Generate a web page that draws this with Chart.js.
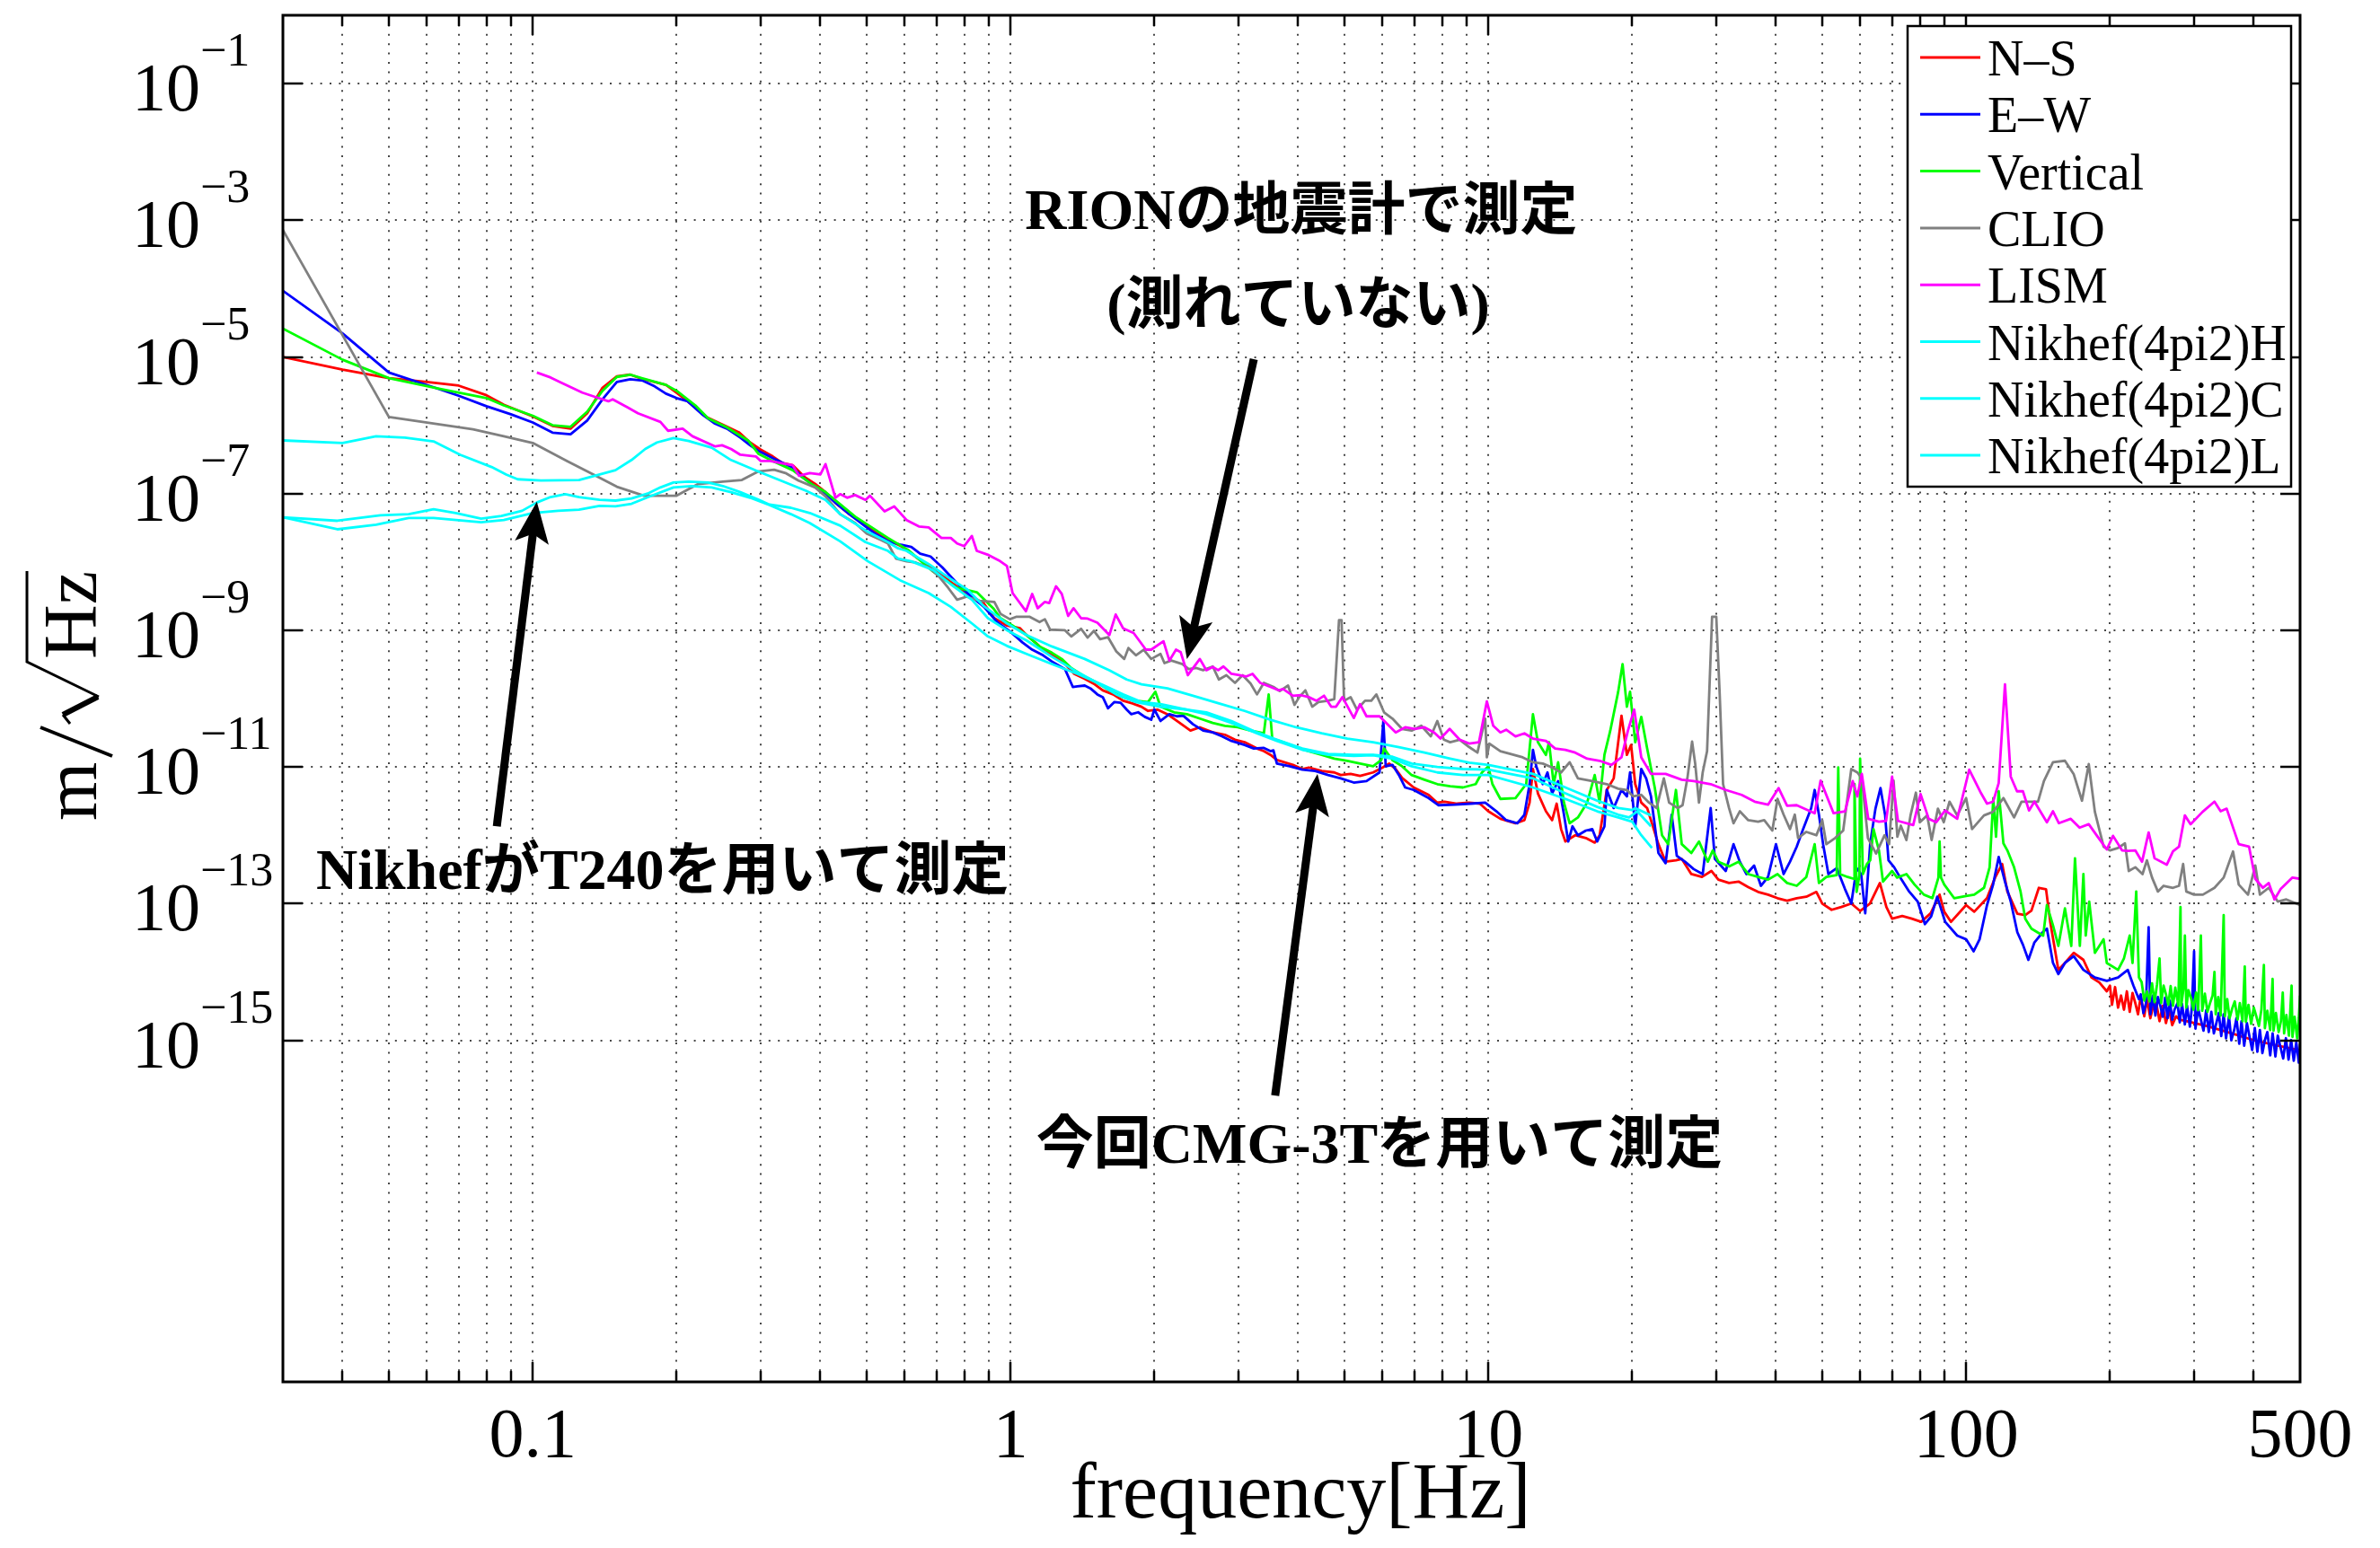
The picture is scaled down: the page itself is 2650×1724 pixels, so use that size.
<!DOCTYPE html>
<html><head><meta charset="utf-8">
<script src="https://cdn.jsdelivr.net/npm/chart.js"></script>
<style>html,body{margin:0;padding:0;background:#fff;overflow:hidden}canvas{display:block}</style>
</head><body>
<canvas id="c" width="2650" height="1724"></canvas>
<script>
// ---------- tick / label data ----------
const X_TICK_VALUES = [0.1, 1, 10, 100, 500];
const X_TICK_LABELS = ['0.1', '1', '10', '100', '500'];
const X_MAJOR = [0.1, 1, 10, 100];
const X_MINOR = [0.04,0.05,0.06,0.07,0.08,0.09,0.2,0.3,0.4,0.5,0.6,0.7,0.8,0.9,2,3,4,5,6,7,8,9,20,30,40,50,60,70,80,90,200,300,400];
const Y_TICK_VALUES = [1e-1,1e-3,1e-5,1e-7,1e-9,1e-11,1e-13,1e-15];
const Y_TICK_EXPONENTS = ['\u22121','\u22123','\u22125','\u22127','\u22129','\u221211','\u221213','\u221215'];
const SERIES_NAMES = ['N\u2013S','E\u2013W','Vertical','CLIO','LISM','Nikhef(4pi2)H','Nikhef(4pi2)C','Nikhef(4pi2)L'];
const SERIES_COLORS = ['#ff0000','#0000ff','#00ff00','#808080','#ff00ff','#00ffff','#00ffff','#00ffff'];

// ---------- series: [frequency Hz, m/sqrt(Hz)] ----------
const NS = [[0.03,1.0e-5],[0.04,6.5e-6],[0.05,4.9e-6],[0.06,4.3e-6],[0.07,3.8e-6],[0.08,2.75e-6],[0.087,2.0e-6],[0.1,1.35e-6],[0.11,9.8e-7],[0.12,8.9e-7],[0.13,1.5e-6],[0.14,3.55e-6],[0.15,5.2e-6],[0.16,5.5e-6],[0.169,4.8e-6],[0.19,3.9e-6],[0.2,3.0e-6],[0.211,2.24e-6],[0.231,1.32e-6],[0.25,1.02e-6],[0.27,7.9e-7],[0.285,5.6e-7],[0.3,4.4e-7],[0.318,3.5e-7],[0.333,2.8e-7],[0.35,2.6e-7],[0.371,1.74e-7],[0.392,1.35e-7],[0.41,1.05e-7],[0.432,7.1e-8],[0.46,5.0e-8],[0.5,3.4e-8],[0.554,2.1e-8],[0.59,1.7e-8],[0.647,1.07e-8],[0.689,7.9e-9],[0.73,5.9e-9],[0.8,3.6e-9],[0.88,2.45e-9],[0.925,1.5e-9],[0.983,1.17e-9],[1.047,1.07e-9],[1.08,8.5e-10],[1.13,6.5e-10],[1.18,4.9e-10],[1.24,4.1e-10],[1.3,3.2e-10],[1.36,2.3e-10],[1.43,1.95e-10],[1.5,1.62e-10],[1.56,1.32e-10],[1.64,1.15e-10],[1.72,9.3e-11],[1.8,8.5e-11],[1.88,7.6e-11],[1.94,6.6e-11],[2.03,6.9e-11],[2.13,5.9e-11],[2.23,4.7e-11],[2.38,3.4e-11],[2.49,3.8e-11],[2.65,3.2e-11],[2.81,2.95e-11],[2.95,2.5e-11],[3.09,2.3e-11],[3.28,1.86e-11],[3.39,1.7e-11],[3.5,1.5e-11],[3.61,1.26e-11],[3.9,1.07e-11],[4.08,9.3e-12],[4.21,9.8e-12],[4.48,8.7e-12],[4.76,8.3e-12],[4.91,7.6e-12],[5.15,7.9e-12],[5.39,7.4e-12],[5.74,8.3e-12],[6.01,9.8e-12],[6.2,1.12e-11],[6.4,9.3e-12],[6.6,6.9e-12],[6.98,5.0e-12],[7.5,3.9e-12],[7.81,3.0e-12],[8.1,3.1e-12],[8.6,2.9e-12],[9.1,3.0e-12],[9.6,2.9e-12],[10.0,2.24e-12],[10.6,1.74e-12],[11.4,1.5e-12],[11.9,1.66e-12],[12.2,3.0e-12],[12.4,9.3e-12],[12.7,4.1e-12],[13.2,2.24e-12],[13.6,1.66e-12],[13.9,2.9e-12],[14.2,1.23e-12],[14.5,8.1e-13],[15.2,1.0e-12],[16.0,9.1e-13],[16.7,7.8e-13],[17.1,1.0e-12],[17.7,4.6e-12],[18.3,6.8e-12],[19.0,5.6e-11],[19.5,1.5e-11],[19.9,2.1e-11],[20.3,5.6e-12],[20.9,3.0e-12],[21.5,2.5e-12],[22.7,7.4e-13],[23.5,4.1e-13],[24.7,4.3e-13],[25.4,4.5e-13],[26.6,2.7e-13],[28.0,2.45e-13],[29.3,3.0e-13],[30.3,2.24e-13],[31.9,2.0e-13],[33.4,2.1e-13],[35.0,1.74e-13],[36.7,1.48e-13],[38.5,1.35e-13],[40.3,1.2e-13],[42.2,1.1e-13],[44.2,1.2e-13],[46.3,1.26e-13],[48.6,1.48e-13],[50,1.0e-13],[52.3,8.1e-14],[54.8,8.9e-14],[57.5,1.0e-13],[60,7.8e-14],[62.9,1.0e-13],[66,2.0e-13],[68.1,8.9e-14],[70,6.0e-14],[73.5,6.6e-14],[77,6.0e-14],[80.5,5.4e-14],[84.3,7.2e-14],[88,1.35e-13],[90,7.6e-14],[93,5.4e-14],[100,9.5e-14],[104,7.6e-14],[110.6,1.2e-13],[115,2.4e-13],[119,3.8e-13],[122,1.5e-13],[128,7.1e-14],[133,6.8e-14],[137,7.9e-14],[142,1.7e-13],[147,1.62e-13],[150,5.4e-14],[156,1.07e-14],[161,1.35e-14],[168,1.9e-14],[176,1.5e-14],[183,8.3e-15],[190,7.0e-15],[197,5.2e-15],[200,6.3e-15],[202,3.3e-15],[205,6.0e-15],[208,3.0e-15],[211,4.5e-15],[214,2.8e-15],[217,5.2e-15],[220,2.6e-15],[223,4.9e-15],[226,3.5e-15],[229,2.4e-15],[232,4.4e-15],[236,2.24e-15],[239,4.0e-15],[243,2.1e-15],[246,3.0e-15],[250,3.5e-15],[254,1.9e-15],[258,3.2e-15],[262,1.78e-15],[266,2.8e-15],[270,1.66e-15],[275,2.24e-15],[280,2.0e-15],[290,1.9e-15],[320,1.6e-15],[360,1.26e-15],[400,1.0e-15],[450,8.3e-16],[500,7.1e-16]];

const EW = [[0.03,9.3e-5],[0.04,2.2e-5],[0.05,5.9e-6],[0.062,3.6e-6],[0.07,2.7e-6],[0.08,1.9e-6],[0.09,1.45e-6],[0.1,1.1e-6],[0.11,7.8e-7],[0.12,7.4e-7],[0.13,1.17e-6],[0.14,2.4e-6],[0.15,4.3e-6],[0.16,4.7e-6],[0.17,4.5e-6],[0.18,3.7e-6],[0.19,2.9e-6],[0.2,2.5e-6],[0.211,2.24e-6],[0.226,1.45e-6],[0.24,1.07e-6],[0.255,8.9e-7],[0.272,6.6e-7],[0.285,5.1e-7],[0.297,4.2e-7],[0.318,3.3e-7],[0.35,2.4e-7],[0.37,1.66e-7],[0.39,1.26e-7],[0.41,1.0e-7],[0.432,7.1e-8],[0.46,5.0e-8],[0.5,3.2e-8],[0.525,2.5e-8],[0.555,2.0e-8],[0.59,1.78e-8],[0.62,1.66e-8],[0.647,1.32e-8],[0.68,1.2e-8],[0.72,8.3e-9],[0.77,5.0e-9],[0.82,3.3e-9],[0.88,2.2e-9],[0.94,1.29e-9],[1.0,9.5e-10],[1.06,6.6e-10],[1.11,5.2e-10],[1.17,4.3e-10],[1.22,3.5e-10],[1.3,2.7e-10],[1.35,1.48e-10],[1.38,1.51e-10],[1.43,1.55e-10],[1.47,1.41e-10],[1.52,1.15e-10],[1.56,1.05e-10],[1.6,7.2e-11],[1.65,8.9e-11],[1.7,8.7e-11],[1.75,6.9e-11],[1.79,5.9e-11],[1.85,6.3e-11],[1.91,5.4e-11],[1.97,4.9e-11],[2.0,6.9e-11],[2.06,4.7e-11],[2.15,5.9e-11],[2.23,5.5e-11],[2.3,5.6e-11],[2.41,4.2e-11],[2.53,3.4e-11],[2.65,3.2e-11],[2.77,2.8e-11],[2.9,2.4e-11],[3.09,2.1e-11],[3.23,1.86e-11],[3.39,1.9e-11],[3.5,1.7e-11],[3.55,1.75e-11],[3.61,1.12e-11],[3.84,1.02e-11],[4.08,9.1e-12],[4.34,8.7e-12],[4.62,7.6e-12],[4.91,6.8e-12],[5.23,5.9e-12],[5.56,6.2e-12],[5.92,8.3e-12],[6.03,4.7e-11],[6.1,1.02e-11],[6.3,1.07e-11],[6.5,7.6e-12],[6.7,5.0e-12],[6.98,4.6e-12],[7.5,3.5e-12],[7.87,2.75e-12],[8.5,2.8e-12],[9.2,2.9e-12],[9.85,3.0e-12],[10.4,2.24e-12],[10.9,1.66e-12],[11.5,1.5e-12],[11.9,2.0e-12],[12.2,5.6e-12],[12.4,1.78e-11],[12.6,1.02e-11],[13.0,5.6e-12],[13.3,8.3e-12],[13.6,4.1e-12],[14.0,6.2e-12],[14.4,2.0e-12],[14.7,8.1e-13],[15.0,1.35e-12],[15.4,1.0e-12],[16.0,1.17e-12],[16.5,1.23e-12],[16.9,8.1e-13],[17.5,1.35e-12],[17.7,4.6e-12],[18.3,2.5e-12],[19.0,4.6e-12],[19.5,3.7e-12],[19.8,8.3e-12],[20.3,1.35e-12],[20.9,9.3e-12],[21.4,6.8e-12],[21.9,3.7e-12],[22.7,5.5e-13],[23.5,3.9e-13],[24.2,2.0e-12],[24.8,5.0e-13],[25.8,4.1e-13],[26.9,3.2e-13],[28.1,2.7e-13],[29.2,2.5e-12],[29.8,4.5e-13],[31.4,3.0e-13],[32.6,7.4e-13],[33.6,4.1e-13],[34.7,2.7e-13],[36.0,3.6e-13],[37.2,1.82e-13],[38.5,2.45e-13],[40.0,7.4e-13],[41.5,2.7e-13],[42.8,4.1e-13],[44.2,6.8e-13],[45.6,1.23e-12],[47.4,2.5e-12],[48.2,4.6e-12],[49.2,2.0e-12],[50.2,7.4e-13],[51.5,2.7e-13],[53.6,3.3e-13],[55.8,1.62e-13],[57.5,1.0e-13],[59,3.3e-13],[60.3,2.7e-13],[61.5,7.2e-14],[63.0,7.6e-13],[64.6,2.45e-12],[66.2,4.9e-12],[67.7,1.95e-12],[68.8,4.3e-13],[70.7,3.4e-13],[72.8,2.4e-13],[76,1.5e-13],[79.2,1.07e-13],[82,5.0e-14],[84.5,6.5e-14],[87,1.26e-13],[90.4,5.4e-14],[95.8,3.4e-14],[100,3.0e-14],[103.7,2.0e-14],[106.7,3.0e-14],[110.6,9.5e-14],[113.9,1.9e-13],[117,4.8e-13],[120.6,2.1e-13],[124,1.07e-13],[128,3.8e-14],[131.5,2.5e-14],[135,1.5e-14],[139,2.7e-14],[144.6,3.8e-14],[147.6,4.3e-14],[152,1.35e-14],[156,9.3e-15],[161,1.35e-14],[168,1.7e-14],[176,1.07e-14],[186,8.3e-15],[197,7.4e-15],[208,8.3e-15],[218,1.07e-14],[224,6.3e-15],[230,4.0e-15],[232,4.7e-15],[235,2.5e-15],[238,3.5e-15],[241,4.5e-14],[243,2.4e-15],[246,4.5e-15],[249,2.3e-15],[252,4.3e-15],[255,3.2e-15],[258,2.2e-15],[261,4.2e-15],[264,2.1e-15],[267,3.8e-15],[270,2.0e-15],[273,2.8e-15],[277,3.5e-15],[280,1.82e-15],[283,3.4e-15],[287,1.7e-15],[290,3.2e-15],[294,1.58e-15],[297,3.1e-15],[300,2.0e-14],[302,1.48e-15],[306,2.9e-15],[310,2.0e-15],[314,1.38e-15],[318,2.75e-15],[322,1.32e-15],[326,2.6e-15],[330,1.26e-15],[334,1.78e-15],[338,2.5e-15],[342,1.15e-15],[346,2.4e-15],[350,1.07e-15],[355,2.24e-15],[359,1.0e-15],[364,1.41e-15],[368,2.1e-15],[373,8.9e-16],[377,1.9e-15],[382,8.3e-16],[387,1.78e-15],[392,1.12e-15],[397,7.2e-16],[402,1.51e-15],[407,6.8e-16],[412,1.41e-15],[417,6.5e-16],[422,1.0e-15],[427,1.32e-15],[433,6.0e-16],[438,1.26e-15],[444,5.8e-16],[449,1.17e-15],[455,7.9e-16],[461,5.4e-16],[467,1.07e-15],[473,5.2e-16],[479,1.0e-15],[485,5.0e-16],[491,9.3e-16],[497,4.7e-16],[500,8.9e-16]];

const VERT = [[0.03,2.6e-5],[0.04,9.1e-6],[0.05,4.9e-6],[0.064,3.4e-6],[0.08,2.5e-6],[0.087,1.95e-6],[0.1,1.38e-6],[0.11,1.0e-6],[0.12,9.5e-7],[0.13,1.58e-6],[0.14,3.2e-6],[0.15,5.1e-6],[0.16,5.5e-6],[0.169,4.9e-6],[0.19,3.9e-6],[0.2,3.2e-6],[0.219,1.95e-6],[0.233,1.26e-6],[0.255,9.3e-7],[0.283,5.9e-7],[0.297,3.8e-7],[0.318,3.0e-7],[0.35,2.2e-7],[0.385,1.35e-7],[0.41,1.05e-7],[0.473,4.6e-8],[0.554,2.24e-8],[0.61,1.5e-8],[0.689,7.2e-9],[0.77,4.2e-9],[0.85,3.6e-9],[0.92,2.1e-9],[0.953,1.5e-9],[1.01,1.17e-9],[1.08,8.5e-10],[1.15,5.8e-10],[1.22,4.7e-10],[1.28,3.8e-10],[1.34,2.8e-10],[1.43,2.1e-10],[1.52,1.7e-10],[1.61,1.32e-10],[1.72,1.05e-10],[1.83,9.3e-11],[1.94,8.9e-11],[2.01,1.26e-10],[2.06,7.6e-11],[2.2,6.3e-11],[2.34,5.9e-11],[2.49,5.1e-11],[2.65,4.4e-11],[2.81,4.0e-11],[2.99,3.8e-11],[3.18,3.4e-11],[3.39,3.1e-11],[3.47,1.15e-10],[3.53,2.6e-11],[3.72,2.3e-11],[3.96,1.95e-11],[4.21,1.7e-11],[4.48,1.5e-11],[4.76,1.32e-11],[5.07,1.23e-11],[5.39,1.12e-11],[5.74,1.02e-11],[5.97,1.26e-11],[6.05,1.86e-11],[6.3,1.26e-11],[6.6,1.02e-11],[6.91,7.6e-12],[7.35,6.5e-12],[7.82,5.6e-12],[8.32,5.2e-12],[8.85,5.0e-12],[9.41,5.6e-12],[9.7,8.3e-12],[10.0,1.02e-11],[10.2,5.6e-12],[10.6,3.4e-12],[11.4,3.5e-12],[12.0,5.6e-12],[12.4,5.9e-11],[12.7,2.3e-11],[13.2,1.5e-11],[13.4,2.3e-11],[13.7,5.6e-12],[14.0,1.17e-11],[14.4,3.0e-12],[14.8,1.5e-12],[15.4,1.82e-12],[16.1,3.0e-12],[16.7,7.6e-12],[17.1,3.0e-12],[17.5,1.5e-11],[18.0,3.4e-11],[18.7,1.26e-10],[19.1,3.2e-10],[19.5,7.6e-11],[19.8,1.26e-10],[20.3,2.3e-11],[20.9,5.4e-11],[21.5,1.86e-11],[22.3,5.0e-12],[23.1,1.0e-12],[23.8,7.4e-13],[24.7,4.6e-12],[25.4,7.4e-13],[26.6,5.5e-13],[27.6,8.1e-13],[28.8,4.1e-13],[29.5,6.0e-13],[30.3,4.1e-13],[31.9,3.5e-13],[33.4,4.1e-13],[35,2.7e-13],[36.7,2.45e-13],[38.5,2.24e-13],[40.3,2.7e-13],[42.2,2.0e-13],[44.2,1.82e-13],[46.3,2.45e-13],[48.2,7.4e-13],[49.2,2.0e-13],[51,2.45e-13],[53.6,2.6e-13],[54,9.8e-12],[54.5,2.7e-13],[56.5,2.45e-13],[58.2,2.3e-13],[58.4,5.6e-12],[59,1.48e-13],[59.8,2.6e-13],[60,1.32e-11],[60.8,2.7e-13],[62,3.8e-13],[63,4.3e-13],[64,1.23e-12],[65.7,6.0e-13],[67,2.1e-13],[70,3.0e-13],[71.7,2.4e-13],[75,2.7e-13],[78,1.9e-13],[81.6,1.35e-13],[85,1.2e-13],[87.5,2.4e-13],[88,8.1e-13],[88.6,2.4e-13],[90,1.9e-13],[94.4,1.2e-13],[100,1.29e-13],[104,1.35e-13],[109,1.7e-13],[112,3.4e-13],[114,3.5e-12],[115.5,9.5e-13],[117,4.4e-12],[119.7,7.6e-13],[122,6.0e-13],[126,3.4e-13],[130,1.5e-13],[133,6.0e-14],[137,4.3e-14],[141,3.8e-14],[145,3.4e-14],[147.6,9.5e-14],[152,4.8e-14],[156,2.4e-14],[161,8.5e-14],[166,2.4e-14],[169,4.6e-13],[173,2.4e-14],[176,2.7e-13],[178,3.4e-14],[181,1.07e-13],[186,1.9e-14],[194,3.0e-14],[197,1.35e-14],[208,1.07e-14],[214,1.58e-14],[220,3.4e-14],[223,1.35e-14],[227,1.5e-13],[230,8.3e-15],[233,7.1e-15],[236,3.8e-15],[239,5.2e-15],[242,3.7e-15],[245,6.8e-15],[248,3.6e-15],[251,6.6e-15],[254,1.58e-14],[256,3.5e-15],[259,6.3e-15],[262,4.7e-15],[265,3.3e-15],[268,6.2e-15],[271,3.2e-15],[274,5.9e-15],[278,3.2e-15],[281,8.9e-14],[282,3.2e-15],[285,5.6e-15],[287,3.4e-14],[289,3.0e-15],[292,5.4e-15],[296,4.0e-15],[299,2.8e-15],[303,5.0e-15],[306,2.75e-15],[310,3.4e-14],[312,2.7e-15],[316,4.8e-15],[320,2.6e-15],[324,3.5e-15],[328,4.5e-15],[331,1.0e-14],[333,2.4e-15],[337,4.3e-15],[341,2.3e-15],[346,6.8e-14],[348,2.24e-15],[352,4.0e-15],[356,2.1e-15],[361,3.0e-15],[365,3.7e-15],[370,2.0e-15],[374,3.5e-15],[379,1.9e-15],[383,1.2e-14],[385,1.86e-15],[390,3.3e-15],[395,1.74e-15],[400,3.0e-15],[405,2.24e-15],[410,1.62e-15],[415,2.8e-15],[420,1.26e-14],[422,1.5e-15],[427,2.7e-15],[433,1.41e-15],[438,7.9e-15],[440,1.38e-15],[445,2.5e-15],[451,1.32e-15],[456,1.9e-15],[460,5.0e-15],[463,1.26e-15],[468,2.34e-15],[474,1.17e-15],[480,6.3e-15],[482,1.12e-15],[487,2.2e-15],[493,1.07e-15],[497,2.1e-15],[500,4.5e-15]];

const CLIO = [[0.03,7.2e-4],[0.05,1.32e-6],[0.075,8.7e-7],[0.087,6.9e-7],[0.1,5.5e-7],[0.118,3.0e-7],[0.134,1.9e-7],[0.15,1.26e-7],[0.171,9.3e-8],[0.2,9.3e-8],[0.222,1.38e-7],[0.25,1.5e-7],[0.274,1.58e-7],[0.296,2.1e-7],[0.32,2.24e-7],[0.338,2.0e-7],[0.36,1.55e-7],[0.39,1.23e-7],[0.41,9.1e-8],[0.44,5.0e-8],[0.473,3.7e-8],[0.5,2.6e-8],[0.535,2.1e-8],[0.554,1.86e-8],[0.576,1.12e-8],[0.606,1.02e-8],[0.633,9.8e-9],[0.674,8.3e-9],[0.706,6.3e-9],[0.74,4.2e-9],[0.773,2.8e-9],[0.81,3.1e-9],[0.86,2.7e-9],[0.925,2.6e-9],[0.953,1.74e-9],[0.997,1.45e-9],[1.03,1.58e-9],[1.095,1.58e-9],[1.15,1.32e-9],[1.18,1.45e-9],[1.21,1.02e-9],[1.3,1.0e-9],[1.34,8.1e-10],[1.405,1.05e-9],[1.45,7.8e-10],[1.495,9.8e-10],[1.54,7.4e-10],[1.6,7.9e-10],[1.665,4.9e-10],[1.73,3.8e-10],[1.765,5.5e-10],[1.83,4.3e-10],[1.9,5.2e-10],[1.97,3.8e-10],[2.06,4.5e-10],[2.1,3.3e-10],[2.17,3.6e-10],[2.29,3.2e-10],[2.36,2.7e-10],[2.45,2.8e-10],[2.53,2.6e-10],[2.65,2.95e-10],[2.73,1.9e-10],[2.83,2.2e-10],[2.95,1.7e-10],[3.06,2.2e-10],[3.18,1.66e-10],[3.28,1.15e-10],[3.39,1.7e-10],[3.55,1.48e-10],[3.66,1.29e-10],[3.81,1.55e-10],[3.93,8.1e-11],[4.02,1.05e-10],[4.14,1.32e-10],[4.28,7.6e-11],[4.41,8.9e-11],[4.62,9.3e-11],[4.76,9.8e-11],[4.87,1.41e-9],[4.93,1.41e-9],[4.99,9.3e-11],[5.15,1.05e-10],[5.31,6.9e-11],[5.52,9.3e-11],[5.69,9.3e-11],[5.83,1.15e-10],[6.05,6.3e-11],[6.3,5.1e-11],[6.6,3.6e-11],[6.91,3.4e-11],[7.24,4.0e-11],[7.58,2.8e-11],[7.82,4.7e-11],[8.07,2.5e-11],[8.32,2.3e-11],[8.71,2.5e-11],[9.12,1.95e-11],[9.49,1.62e-11],[9.85,5.1e-11],[9.93,1.38e-11],[10.05,2.2e-11],[10.6,1.7e-11],[11.3,1.5e-11],[11.8,1.38e-11],[12.4,1.17e-11],[13.0,1.12e-11],[13.6,9.8e-12],[14.2,8.3e-12],[14.8,1.17e-11],[15.4,6.8e-12],[16.5,6.2e-12],[17.7,5.6e-12],[18.7,4.8e-12],[19.5,4.6e-12],[20.1,3.7e-12],[20.9,3.9e-12],[21.7,3.0e-12],[22.5,2.5e-12],[23.3,6.8e-12],[23.9,3.0e-12],[24.9,2.5e-12],[25.5,2.75e-12],[26.1,6.8e-12],[26.7,2.34e-11],[27.1,1.12e-11],[27.6,3.0e-12],[28.1,8.3e-12],[28.7,1.7e-11],[29.4,1.58e-9],[30.0,1.58e-9],[30.5,1.15e-10],[31.0,5.6e-12],[31.9,2.5e-12],[32.6,1.5e-12],[33.6,2.24e-12],[35.0,1.66e-12],[36.7,1.58e-12],[37.8,1.66e-12],[39.3,1.17e-12],[40.3,3.4e-12],[41.5,2.0e-12],[42.8,1.23e-12],[43.8,2.0e-12],[44.5,9.1e-13],[46.3,1.12e-12],[48.6,1.0e-12],[50,1.66e-12],[51,7.4e-13],[53.2,9.1e-13],[55.3,1.17e-12],[57.5,9.3e-12],[59.2,8.3e-12],[60.5,6.8e-12],[62.3,9.1e-13],[64.8,5.4e-13],[67.5,1.0e-12],[69,7.4e-13],[70.5,6.3e-12],[71.8,9.5e-13],[73,1.38e-12],[75,8.5e-13],[76.5,1.95e-12],[78.5,4.2e-12],[80,1.55e-12],[82.9,1.95e-12],[84.7,8.5e-13],[87.3,2.45e-12],[89.8,1.55e-12],[92.3,3.1e-12],[95.8,1.95e-12],[100,3.5e-12],[102.9,1.23e-12],[109,1.95e-12],[113.9,2.2e-12],[119.7,3.5e-12],[126,1.82e-12],[130.6,3.1e-12],[136,3.1e-12],[141.4,3.1e-12],[145.5,6.2e-12],[152,1.17e-11],[161,1.23e-11],[168,7.8e-12],[174.8,3.2e-12],[180.6,1.1e-11],[186,2.2e-12],[194,6.8e-13],[200,6.0e-13],[208,6.5e-13],[215,7.6e-13],[219,3.0e-13],[226,3.4e-13],[234,2.7e-13],[239,4.3e-13],[245,2.4e-13],[252,1.5e-13],[259,1.82e-13],[271,1.7e-13],[279,1.82e-13],[284.6,3.8e-13],[289,1.5e-13],[300,1.35e-13],[313,1.35e-13],[331,1.7e-13],[346,2.4e-13],[362,5.8e-13],[372,1.9e-13],[389,1.35e-13],[403,3.6e-13],[412,1.35e-13],[430,1.7e-13],[449,1.07e-13],[468,1.15e-13],[500,9.5e-14]];

const LISM = [[0.102,5.9e-6],[0.109,5.0e-6],[0.114,4.3e-6],[0.127,3.0e-6],[0.135,2.6e-6],[0.144,2.24e-6],[0.147,2.4e-6],[0.158,1.82e-6],[0.166,1.5e-6],[0.185,1.12e-6],[0.192,8.3e-7],[0.206,8.9e-7],[0.216,6.9e-7],[0.241,4.9e-7],[0.249,5.1e-7],[0.26,4.5e-7],[0.272,3.7e-7],[0.293,3.5e-7],[0.3,3.0e-7],[0.314,3.0e-7],[0.33,2.8e-7],[0.35,2.6e-7],[0.361,1.82e-7],[0.38,2.0e-7],[0.4,1.9e-7],[0.41,2.7e-7],[0.43,8.7e-8],[0.44,9.8e-8],[0.455,8.7e-8],[0.473,9.5e-8],[0.497,8.1e-8],[0.508,9.3e-8],[0.545,5.5e-8],[0.571,6.5e-8],[0.606,4.1e-8],[0.643,3.3e-8],[0.674,3.2e-8],[0.717,2.24e-8],[0.75,2.24e-8],[0.773,1.86e-8],[0.8,1.7e-8],[0.83,2.4e-8],[0.85,1.45e-8],[0.9,1.26e-8],[0.946,1.05e-8],[0.983,8.7e-9],[1.01,3.5e-9],[1.077,1.9e-9],[1.11,3.4e-9],[1.14,2.1e-9],[1.18,2.6e-9],[1.205,2.5e-9],[1.245,4.4e-9],[1.28,3.4e-9],[1.32,1.62e-9],[1.355,2.1e-9],[1.405,1.5e-9],[1.45,1.48e-9],[1.52,1.29e-9],[1.61,8.5e-10],[1.66,1.7e-9],[1.72,1.07e-9],[1.81,9.1e-10],[1.92,5.2e-10],[1.97,5.2e-10],[2.09,6.9e-10],[2.15,3.6e-10],[2.22,5.2e-10],[2.27,4.8e-10],[2.35,2.2e-10],[2.49,3.8e-10],[2.57,2.6e-10],[2.65,2.9e-10],[2.72,2.6e-10],[2.79,2.95e-10],[2.9,2.3e-10],[3.01,2.2e-10],[3.11,2.1e-10],[3.21,2.3e-10],[3.33,1.7e-10],[3.5,1.48e-10],[3.64,1.32e-10],[3.72,1.38e-10],[3.9,1.1e-10],[4.05,1.12e-10],[4.21,1.05e-10],[4.37,9.3e-11],[4.53,1.1e-10],[4.69,7.6e-11],[4.8,7.6e-11],[4.95,1.05e-10],[5.23,5.2e-11],[5.39,8.3e-11],[5.56,5.5e-11],[5.92,5.5e-11],[6.4,3.2e-11],[6.7,3.8e-11],[7.02,3.6e-11],[7.35,3.8e-11],[7.7,3.2e-11],[7.94,2.6e-11],[8.3,3.6e-11],[8.71,2.5e-11],[9.12,2.2e-11],[9.56,2.3e-11],[9.93,9.1e-11],[10.24,4.0e-11],[10.6,3.2e-11],[10.9,3.5e-11],[11.4,2.8e-11],[11.9,3.1e-11],[12.4,2.6e-11],[13.2,2.4e-11],[13.8,1.86e-11],[14.5,1.78e-11],[15.2,1.62e-11],[16.1,1.32e-11],[17.1,1.23e-11],[18.1,1.07e-11],[19.0,1.38e-11],[19.6,3.4e-11],[20.2,6.9e-11],[20.9,1.38e-11],[21.9,7.9e-12],[23.5,7.9e-12],[25.4,6.5e-12],[26.9,6.2e-12],[29.2,5.6e-12],[31.4,4.6e-12],[33.9,3.9e-12],[36.1,3.1e-12],[38.5,2.8e-12],[40.5,4.9e-12],[42.2,2.7e-12],[44.2,2.75e-12],[48.2,2.1e-12],[49.6,6.3e-12],[52.8,2.1e-12],[55.8,2.24e-12],[57.9,6.2e-12],[59.2,3.7e-12],[60.5,7.9e-12],[62.4,1.74e-12],[65.7,1.58e-12],[68,1.62e-12],[70,7.2e-12],[72,1.62e-12],[77.5,1.41e-12],[80.3,4.0e-12],[83.5,1.74e-12],[86.6,1.55e-12],[90.4,2.3e-12],[95.8,1.74e-12],[101.5,9.1e-12],[107.5,4.1e-12],[110.6,2.9e-12],[113.9,3.1e-12],[117,5.8e-12],[120.6,1.62e-10],[124,7.2e-12],[127.8,4.4e-12],[131.5,4.4e-12],[135.4,2.3e-12],[139,3.1e-12],[147.6,1.55e-12],[152,2.24e-12],[156.4,1.5e-12],[165.6,1.74e-12],[172.8,1.29e-12],[180.6,1.45e-12],[188.5,9.5e-13],[197,6.2e-13],[203,9.8e-13],[212,6.0e-13],[218,5.9e-13],[226,6.0e-13],[233.5,4.1e-13],[241,1.1e-12],[248,4.6e-13],[263,3.7e-13],[271,5.8e-13],[279,6.8e-13],[287,1.95e-12],[295,1.45e-12],[312.6,2.2e-12],[331,3.1e-12],[341,2.24e-12],[351,2.45e-12],[372,7.4e-13],[391,6.8e-13],[403,2.3e-13],[418,1.7e-13],[430,2.0e-13],[442,1.15e-13],[455,1.62e-13],[482,2.4e-13],[500,2.3e-13]];

const NIK_H = [[0.03,6.0e-7],[0.04,5.5e-7],[0.047,6.9e-7],[0.054,6.6e-7],[0.062,5.8e-7],[0.0705,3.7e-7],[0.082,2.45e-7],[0.088,1.9e-7],[0.093,1.62e-7],[0.104,1.55e-7],[0.125,1.58e-7],[0.149,2.2e-7],[0.161,3.1e-7],[0.172,4.5e-7],[0.182,5.6e-7],[0.197,6.5e-7],[0.212,5.9e-7],[0.237,4.7e-7],[0.26,3.1e-7],[0.297,2.1e-7],[0.336,1.48e-7],[0.373,1.1e-7],[0.41,8.1e-8],[0.44,5.0e-8],[0.503,2.75e-8],[0.554,1.95e-8],[0.582,1.58e-8],[0.606,1.45e-8],[0.674,9.3e-9],[0.75,5.6e-9],[0.81,4.0e-9],[0.88,2.24e-9],[0.983,1.26e-9],[1.08,8.5e-10],[1.22,5.8e-10],[1.43,3.8e-10],[1.61,2.6e-10],[1.75,1.9e-10],[1.88,1.62e-10],[2.13,1.41e-10],[2.41,1.1e-10],[2.73,8.5e-11],[3.09,6.6e-11],[3.5,4.9e-11],[3.96,3.8e-11],[4.48,3.1e-11],[5.07,2.6e-11],[5.74,2.3e-11],[6.5,1.95e-11],[7.35,1.62e-11],[8.32,1.32e-11],[9.12,1.15e-11],[10.0,1.07e-11],[12.4,7.9e-12],[14.5,5.0e-12],[16.9,3.2e-12],[18.7,2.5e-12],[20.0,2.34e-12],[20.3,2.5e-12],[21.9,1.95e-12]];

const NIK_C = [[0.03,4.5e-8],[0.039,4.0e-8],[0.048,4.8e-8],[0.055,5.0e-8],[0.062,5.9e-8],[0.069,5.2e-8],[0.078,4.3e-8],[0.086,4.7e-8],[0.095,5.6e-8],[0.102,7.4e-8],[0.109,8.9e-8],[0.117,9.8e-8],[0.125,8.9e-8],[0.138,8.1e-8],[0.149,7.9e-8],[0.161,8.5e-8],[0.174,1.0e-7],[0.185,1.23e-7],[0.197,1.45e-7],[0.212,1.5e-7],[0.233,1.45e-7],[0.25,1.29e-7],[0.272,1.05e-7],[0.297,8.1e-8],[0.313,6.9e-8],[0.347,6.2e-8],[0.38,5.2e-8],[0.44,3.4e-8],[0.497,1.95e-8],[0.554,1.45e-8],[0.582,1.12e-8],[0.62,1.02e-8],[0.689,7.6e-9],[0.75,4.7e-9],[0.83,2.8e-9],[0.897,1.5e-9],[0.983,1.0e-9],[1.08,7.1e-10],[1.22,4.1e-10],[1.38,2.45e-10],[1.52,1.7e-10],[1.665,1.15e-10],[1.83,8.9e-11],[2.06,7.6e-11],[2.34,6.9e-11],[2.57,6.3e-11],[2.9,4.7e-11],[3.28,3.2e-11],[3.61,2.5e-11],[4.08,1.86e-11],[4.62,1.55e-11],[5.23,1.5e-11],[5.74,1.5e-11],[6.3,1.41e-11],[6.91,1.12e-11],[7.82,1.0e-11],[8.85,9.3e-12],[10.0,9.1e-12],[12.4,6.8e-12],[14.5,4.1e-12],[16.9,2.6e-12],[18.7,2.0e-12],[19.7,1.82e-12],[20.5,2.24e-12],[21.9,1.35e-12]];

const NIK_L = [[0.03,4.5e-8],[0.039,3.0e-8],[0.047,3.5e-8],[0.055,4.4e-8],[0.062,4.4e-8],[0.078,3.8e-8],[0.087,4.1e-8],[0.1,5.2e-8],[0.113,5.6e-8],[0.125,5.8e-8],[0.138,6.6e-8],[0.149,6.5e-8],[0.161,7.1e-8],[0.176,9.1e-8],[0.197,1.23e-7],[0.215,1.29e-7],[0.237,1.23e-7],[0.26,1.05e-7],[0.285,8.7e-8],[0.313,6.8e-8],[0.347,5.0e-8],[0.38,3.7e-8],[0.44,2.0e-8],[0.503,1.02e-8],[0.587,5.4e-9],[0.674,3.5e-9],[0.75,2.2e-9],[0.83,1.26e-9],[0.897,8.1e-10],[0.983,5.9e-10],[1.08,4.5e-10],[1.22,3.2e-10],[1.38,2.3e-10],[1.56,1.58e-10],[1.72,1.15e-10],[1.88,8.9e-11],[2.06,8.3e-11],[2.27,7.2e-11],[2.57,5.9e-11],[2.9,4.4e-11],[3.28,3.1e-11],[3.61,2.4e-11],[4.08,1.78e-11],[4.62,1.5e-11],[5.23,1.45e-11],[5.74,1.48e-11],[6.3,1.32e-11],[6.91,1.02e-11],[7.82,8.3e-12],[8.85,7.6e-12],[10.0,7.6e-12],[12.4,5.0e-12],[14.5,3.4e-12],[16.9,2.24e-12],[18.7,1.82e-12],[20.0,1.58e-12],[20.9,1.0e-12],[22.0,6.5e-13]];

// ---------- annotations (anchored in data coordinates) ----------
const ANNOT_TEXTS = [
  {text: 'RIONの地震計で測定', f: 4.06, v: 7.4e-4},
  {text: '(測れていない)', f: 4.0, v: 3.1e-5},
  {text: 'NikhefがT240を用いて測定', f: 0.187, v: 1.62e-13},
  {text: '今回CMG-3Tを用いて測定', f: 5.92, v: 1.6e-17}
];
const ARROWS = [
  {from: [3.23, 9.3e-6], to: [2.34, 3.8e-10]},
  {from: [0.0841, 1.35e-12], to: [0.102, 7.6e-8]},
  {from: [3.58, 1.55e-16], to: [4.39, 7.85e-12]}
];

const ALL_SERIES = [NS, EW, VERT, CLIO, LISM, NIK_H, NIK_C, NIK_L];
const SERIF = '"Liberation Serif", "Times New Roman", serif';

const datasets = ALL_SERIES.map((s, i) => ({
  label: SERIES_NAMES[i],
  data: s.map(p => ({x: p[0], y: p[1]})),
  borderColor: SERIES_COLORS[i],
  backgroundColor: SERIES_COLORS[i],
  borderWidth: 2.8,
  pointRadius: 0,
  tension: 0,
  fill: false,
  borderJoinStyle: 'round',
  order: -i
}));

function drawArrow(ctx, x1, y1, x2, y2) {
  const ang = Math.atan2(y2 - y1, x2 - x1);
  const hl = 40, hw = 19;
  const bx = x2 - hl * Math.cos(ang), by = y2 - hl * Math.sin(ang);
  ctx.save();
  ctx.strokeStyle = '#000'; ctx.fillStyle = '#000';
  ctx.lineWidth = 9; ctx.lineCap = 'butt';
  ctx.beginPath(); ctx.moveTo(x1, y1); ctx.lineTo(bx + 6*Math.cos(ang), by + 6*Math.sin(ang)); ctx.stroke();
  ctx.beginPath();
  ctx.moveTo(x2, y2);
  ctx.lineTo(bx + hw * Math.sin(ang) - 6*Math.cos(ang), by - hw * Math.cos(ang) - 6*Math.sin(ang));
  ctx.lineTo(bx + 4*Math.cos(ang), by + 4*Math.sin(ang));
  ctx.lineTo(bx - hw * Math.sin(ang) - 6*Math.cos(ang), by + hw * Math.cos(ang) - 6*Math.sin(ang));
  ctx.closePath(); ctx.fill();
  ctx.restore();
}

const matlabLook = {
  id: 'matlabLook',
  beforeDraw(chart) {
    const c = chart.ctx; c.save(); c.fillStyle = '#fff'; c.fillRect(0, 0, chart.width, chart.height); c.restore();
  },
  beforeDatasetsDraw(chart) {
    const {ctx, chartArea: a, scales: {x, y}} = chart;
    ctx.save();
    ctx.strokeStyle = 'rgba(0,0,0,0.72)';
    ctx.lineWidth = 2;
    ctx.setLineDash([2, 8.4]);
    X_MINOR.concat(X_MAJOR).forEach(f => {
      const px = Math.round(x.getPixelForValue(f));
      ctx.beginPath(); ctx.moveTo(px, a.top); ctx.lineTo(px, a.bottom); ctx.stroke();
    });
    Y_TICK_VALUES.forEach(v => {
      const py = Math.round(y.getPixelForValue(v));
      ctx.beginPath(); ctx.moveTo(a.left, py); ctx.lineTo(a.right, py); ctx.stroke();
    });
    ctx.restore();
  },
  afterDatasetsDraw(chart) {
    const {ctx, chartArea: a, scales: {x, y}} = chart;
    ctx.save();
    ctx.strokeStyle = '#000'; ctx.fillStyle = '#000';
    ctx.lineWidth = 2.5;
    const tick = (f, len) => {
      const px = Math.round(x.getPixelForValue(f));
      ctx.beginPath(); ctx.moveTo(px, a.bottom); ctx.lineTo(px, a.bottom - len);
      ctx.moveTo(px, a.top); ctx.lineTo(px, a.top + len); ctx.stroke();
    };
    X_MINOR.forEach(f => tick(f, 12));
    X_MAJOR.forEach(f => tick(f, 22));
    Y_TICK_VALUES.forEach(v => {
      const py = Math.round(y.getPixelForValue(v));
      ctx.beginPath(); ctx.moveTo(a.left, py); ctx.lineTo(a.left + 22, py);
      ctx.moveTo(a.right, py); ctx.lineTo(a.right - 22, py); ctx.stroke();
    });
    ctx.lineWidth = 3;
    ctx.strokeRect(a.left, a.top, a.right - a.left, a.bottom - a.top);

    ctx.textAlign = 'left'; ctx.textBaseline = 'alphabetic';
    Y_TICK_VALUES.forEach((v, i) => {
      const py = y.getPixelForValue(v);
      ctx.font = '76px ' + SERIF;
      ctx.fillText('10', 147, py + 30);
      ctx.font = '52px ' + SERIF;
      ctx.fillText(Y_TICK_EXPONENTS[i], 223, py - 20);
    });
    ctx.font = '78px ' + SERIF; ctx.textAlign = 'center';
    X_TICK_VALUES.forEach((f, i) => {
      ctx.fillText(X_TICK_LABELS[i], x.getPixelForValue(f), 1622);
    });
    ctx.font = '88px ' + SERIF;
    ctx.fillText('frequency[Hz]', 1448, 1690);

    ctx.save();
    ctx.translate(107, 914); ctx.rotate(-Math.PI / 2);
    ctx.textAlign = 'left';
    ctx.font = '84px ' + SERIF;
    ctx.fillText('m', 0, 0);
    ctx.lineWidth = 4;
    ctx.beginPath(); ctx.moveTo(72, 18); ctx.lineTo(104, -62); ctx.stroke();
    ctx.lineWidth = 3;
    ctx.beginPath(); ctx.moveTo(108, -29); ctx.lineTo(118, -37); ctx.stroke();
    ctx.lineWidth = 6;
    ctx.beginPath(); ctx.moveTo(118, -37); ctx.lineTo(138, 2); ctx.stroke();
    ctx.lineWidth = 3;
    ctx.beginPath(); ctx.moveTo(138, 3); ctx.lineTo(177, -77); ctx.lineTo(278, -77); ctx.stroke();
    ctx.fillText('Hz', 180, 0);
    ctx.restore();

    const lx = 2124, ly = 29, lw = 427, lh = 513;
    ctx.fillStyle = '#fff'; ctx.fillRect(lx, ly, lw, lh);
    ctx.lineWidth = 2.5; ctx.strokeStyle = '#000'; ctx.strokeRect(lx, ly, lw, lh);
    ctx.font = '56px ' + SERIF; ctx.textAlign = 'left';
    SERIES_NAMES.forEach((name, i) => {
      const cy = 64 + i * 63.3;
      ctx.strokeStyle = SERIES_COLORS[i]; ctx.lineWidth = 3;
      ctx.beginPath(); ctx.moveTo(2138, cy); ctx.lineTo(2205, cy); ctx.stroke();
      ctx.fillStyle = '#000';
      ctx.fillText(name, 2213, cy + 20);
    });

    ctx.fillStyle = '#000';
    ctx.font = 'bold 64px "Liberation Serif", "Noto Sans CJK JP", serif';
    ctx.textAlign = 'center';
    ANNOT_TEXTS.forEach(t => {
      ctx.fillText(t.text, x.getPixelForValue(t.f), y.getPixelForValue(t.v));
    });
    ARROWS.forEach(ar => {
      drawArrow(ctx, x.getPixelForValue(ar.from[0]), y.getPixelForValue(ar.from[1]),
                     x.getPixelForValue(ar.to[0]), y.getPixelForValue(ar.to[1]));
    });
    ctx.restore();
  }
};

new Chart(document.getElementById('c').getContext('2d'), {
  type: 'line',
  data: {datasets},
  options: {
    responsive: false,
    animation: false,
    devicePixelRatio: 1,
    layout: {padding: {left: 315, right: 89, top: 17, bottom: 185}},
    scales: {
      x: {type: 'logarithmic', min: 0.03, max: 500, display: false},
      y: {type: 'logarithmic', min: 1e-20, max: 1, display: false}
    },
    plugins: {legend: {display: false}, tooltip: {enabled: false}},
    elements: {point: {radius: 0}}
  },
  plugins: [matlabLook]
});
</script>
</body></html>
